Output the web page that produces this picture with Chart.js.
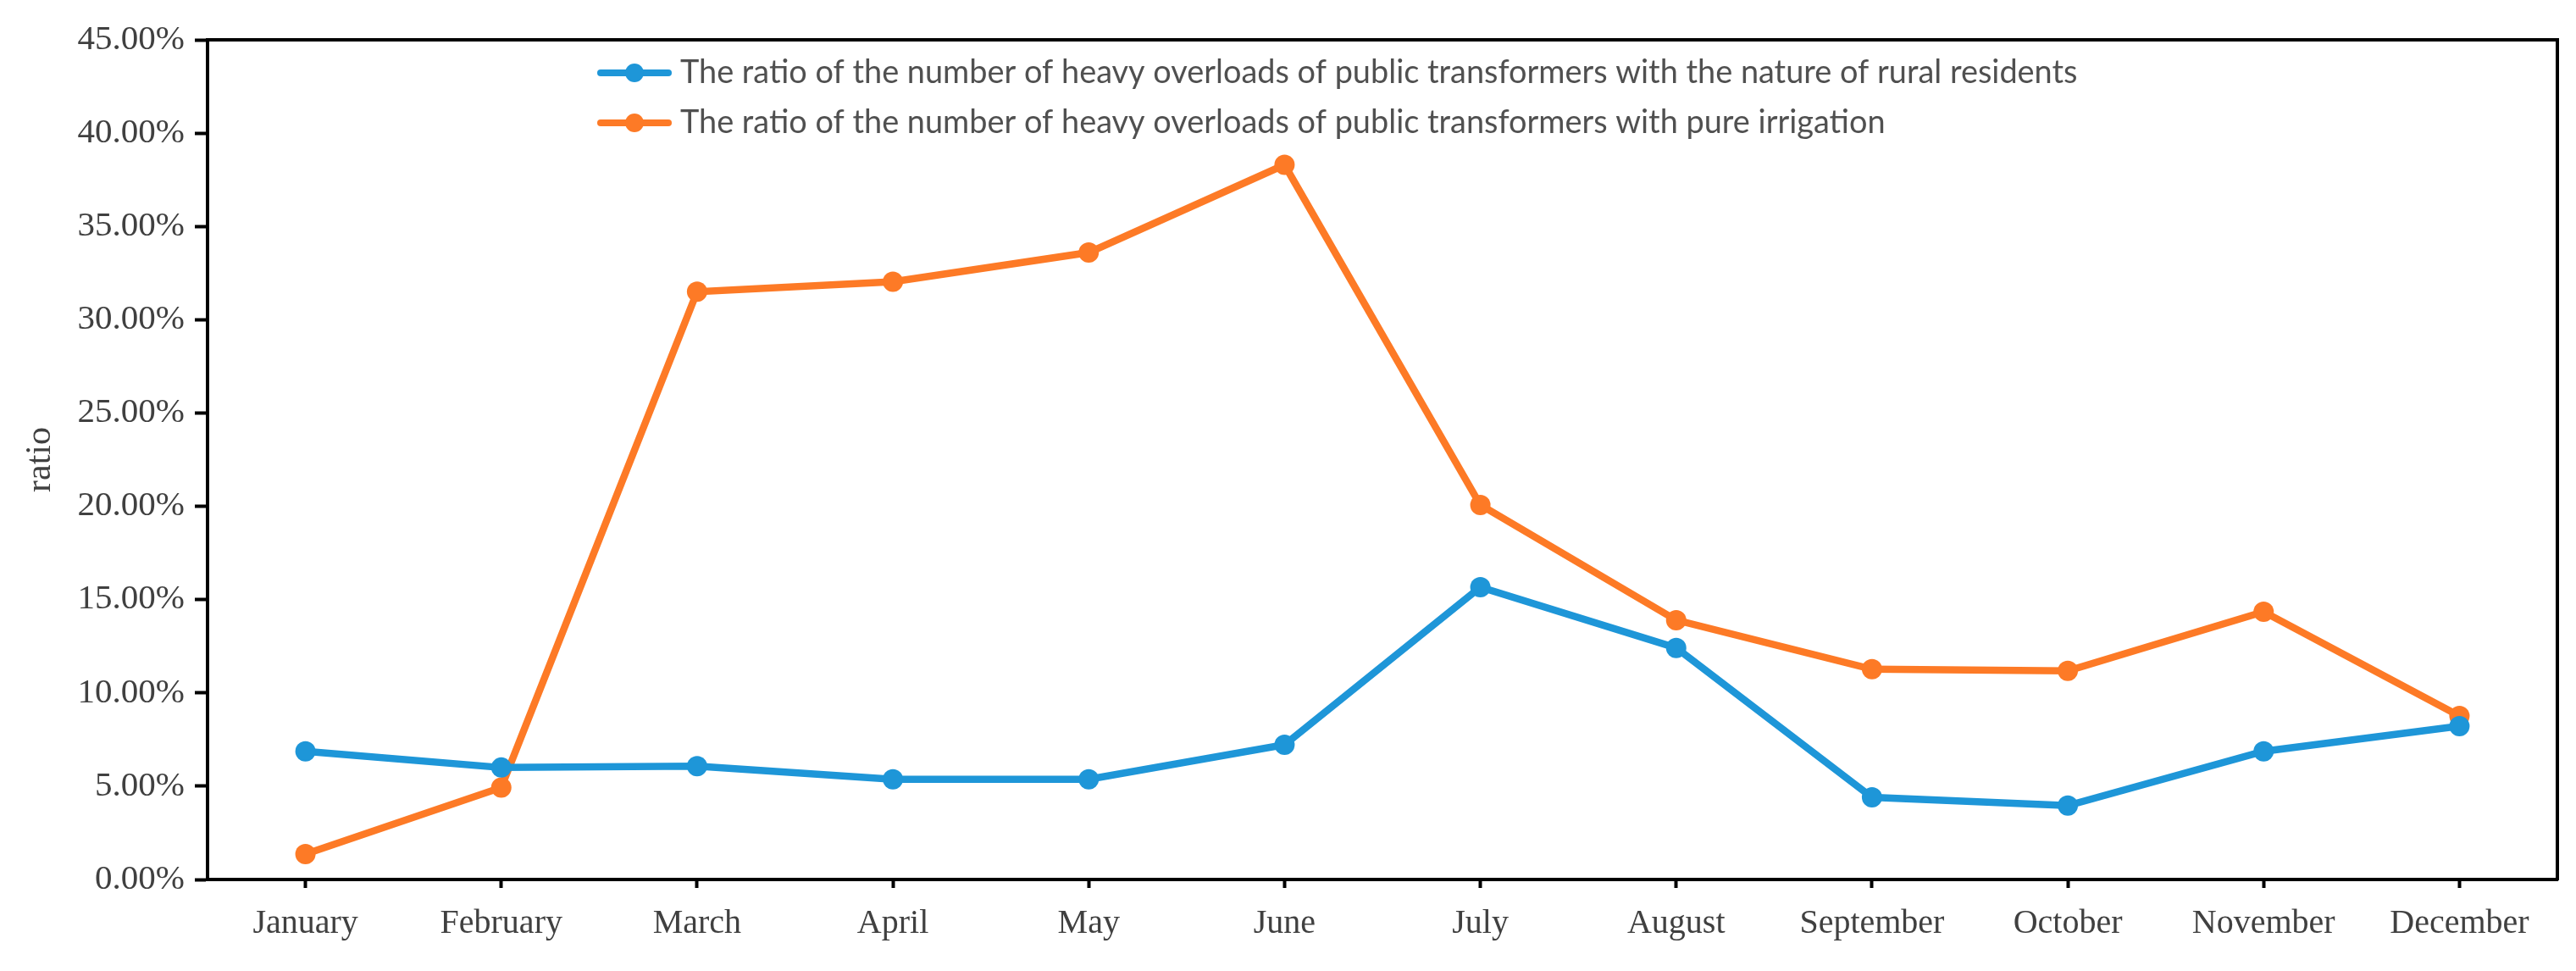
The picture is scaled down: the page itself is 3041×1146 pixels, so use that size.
<!DOCTYPE html>
<html>
<head>
<meta charset="utf-8">
<script src="https://cdn.jsdelivr.net/npm/chart.js@4.4.0/dist/chart.umd.min.js"></script>
<style>
    html, body { margin: 0; padding: 0; background: #fff; }
    #wrap { width: 3041px; height: 1146px; }
</style>
</head>
<body>
<div id="wrap"><canvas id="chart" width="3041" height="1146"></canvas></div>
<script>
const months = ['January', 'February', 'March', 'April', 'May', 'June',
    'July', 'August', 'September', 'October', 'November', 'December'];
const ruralResidents = [6.87, 6.0, 6.07, 5.37, 5.37, 7.22, 15.67, 12.41, 4.4, 3.96, 6.87, 8.22];
const pureIrrigation = [1.36, 4.93, 31.5, 32.04, 33.6, 38.3, 20.07, 13.9, 11.27, 11.18, 14.35, 8.76];
const seriesNames = [
    'The ratio of the number of heavy overloads of public transformers with the nature of rural residents',
    'The ratio of the number of heavy overloads of public transformers with pure irrigation'
];
const yTicks = [0, 5, 10, 15, 20, 25, 30, 35, 40, 45];

const blue = '#1e96d8';
const orange = '#fd7a26';
const serif = "'Liberation Serif', 'Times New Roman', serif";

// legend drawn inside the plot, like the original
const insideLegend = {
    id: 'insideLegend',
    afterDatasetsDraw(chart) {
        const ctx = chart.ctx;
        const area = chart.chartArea;
        const x0 = area.left + 464;
        const rows = [area.top + 39, area.top + 98];
        ctx.save();
        let size = 38;
        ctx.font = size + "px 'Lato', 'Open Sans', sans-serif";
        const w = ctx.measureText(chart.data.datasets[0].label).width;
        size = size * 1650 / w;
        ctx.font = size + "px 'Lato', 'Open Sans', sans-serif";
        chart.data.datasets.forEach((ds, i) => {
            const y = rows[i];
            ctx.strokeStyle = ds.borderColor;
            ctx.lineWidth = 8;
            ctx.lineCap = 'round';
            ctx.beginPath();
            ctx.moveTo(x0, y);
            ctx.lineTo(x0 + 80, y);
            ctx.stroke();
            ctx.fillStyle = ds.borderColor;
            ctx.beginPath();
            ctx.arc(x0 + 40, y, 11, 0, Math.PI * 2);
            ctx.fill();
            ctx.fillStyle = '#505050';
            ctx.textBaseline = 'middle';
            ctx.textAlign = 'left';
            ctx.fillText(ds.label, x0 + 94, y);
        });
        ctx.restore();
    }
};

const ctx = document.getElementById('chart');

new Chart(ctx, {
    type: 'line',
    data: {
        labels: months,
        datasets: [{
            label: seriesNames[0],
            data: ruralResidents,
            borderColor: blue,
            backgroundColor: blue,
            borderWidth: 8.5,
            pointRadius: 12,
            pointHoverRadius: 12,
            pointBorderWidth: 0,
        },
            {
                label: seriesNames[1],
                data: pureIrrigation,
                borderColor: orange,
                backgroundColor: orange,
                borderWidth: 8.5,
                pointRadius: 12,
                pointHoverRadius: 12,
                pointBorderWidth: 0,
            }]
    },
    options: {
        responsive: false,
        animation: false,
        devicePixelRatio: 1,
        layout: {
            padding: {left: 0, top: 47, right: 22, bottom: 0}
        },
        plugins: {
            legend: {display: false},
            tooltip: {enabled: false}
        },
        scales: {
            x: {
                offset: true,
                grid: {
                    offset: false,
                    drawOnChartArea: false,
                    tickLength: 10,
                    tickWidth: 4,
                    tickColor: '#000'
                },
                border: {color: '#000', width: 4},
                ticks: {
                    color: '#404040',
                    padding: 18,
                    maxRotation: 0,
                    autoSkip: false,
                    font: {family: serif, size: 40}
                },
                afterFit: (s) => { s.height = 108; }
            },
            y: {
                min: 0,
                max: 45,
                afterBuildTicks: (s) => { s.ticks = yTicks.map(v => ({value: v})); },
                grid: {
                    drawOnChartArea: false,
                    tickLength: 15,
                    tickWidth: 4,
                    tickColor: '#000'
                },
                border: {color: '#000', width: 4},
                ticks: {
                    color: '#404040',
                    padding: 12,
                    font: {family: serif, size: 41},
                    callback: (v) => v.toFixed(2) + '%'
                },
                title: {
                    display: true,
                    text: 'ratio',
                    color: '#404040',
                    font: {family: serif, size: 42},
                    padding: {top: 23, bottom: 0}
                },
                afterFit: (s) => { s.width = 245; }
            },
            xTop: {
                type: 'category',
                position: 'top',
                display: true,
                grid: {display: false},
                ticks: {display: false},
                border: {color: '#000', width: 4},
                afterFit: (s) => { s.height = 0; }
            },
            yRight: {
                type: 'linear',
                position: 'right',
                display: true,
                grid: {display: false},
                ticks: {display: false},
                border: {color: '#000', width: 4},
                afterFit: (s) => { s.width = 0; }
            }
        }
    },
    plugins: [insideLegend]
});
</script>
</body>
</html>
